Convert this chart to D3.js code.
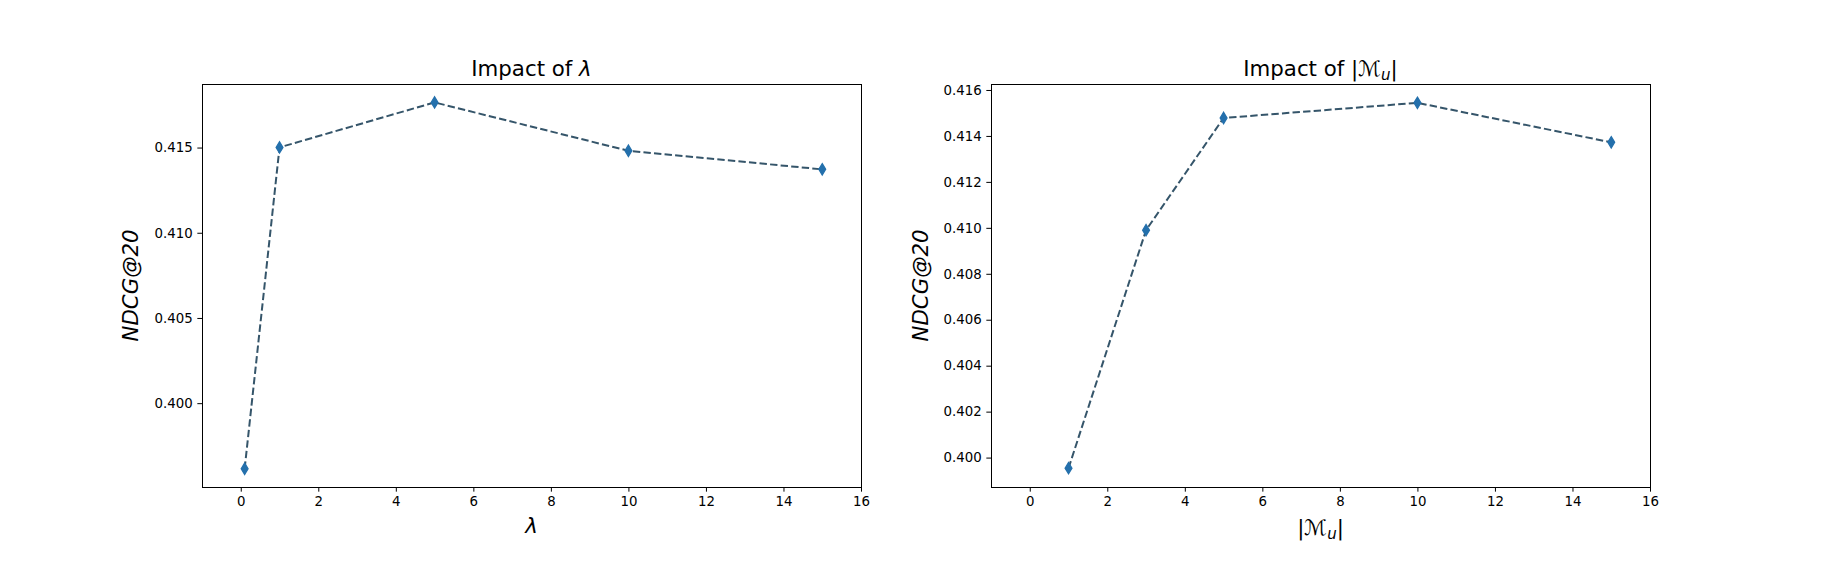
<!DOCTYPE html>
<html>
<head>
<meta charset="utf-8">
<script src="https://cdn.jsdelivr.net/npm/d3@7"></script>
<style>
  body { margin: 0; background: #fff; }
  svg text { font-family: "DejaVu Sans", sans-serif; fill: #000; }
  .tick text { font-size: 13.33px; }
  .tick line { stroke: #000; stroke-width: 1; }
</style>
</head>
<body>
<div id="chart"></div>
<script>
// left panel: lambda
var lambdaX = [0.1, 1, 5, 10, 15];
var lambdaY = [0.39615, 0.41501, 0.41765, 0.41481, 0.41372];
var lambdaTicksY = [0.400, 0.405, 0.410, 0.415];

// right panel: |M_u|
var memX = [1, 3, 5, 10, 15];
var memY = [0.39954, 0.40990, 0.41478, 0.41544, 0.41372];
var memTicksY = [0.400, 0.402, 0.404, 0.406, 0.408, 0.410, 0.412, 0.414, 0.416];

var xTicks = [0, 2, 4, 6, 8, 10, 12, 14, 16];

var width = 1832, height = 580;
var svg = d3.select('#chart').append('svg')
	.attr('width', width)
	.attr('height', height);

var lineColor = '#35556a';
var markColor = '#2470ac';

function panel(opts) {
	var x = d3.scaleLinear().domain([-1, 16]).range([opts.left, opts.left + 659]);
	var y = d3.scaleLinear().domain(opts.ylim).range([487, 84]);

	var g = svg.append('g');

	g.append('g')
		.attr('transform', 'translate(0,487)')
		.call(d3.axisBottom(x).tickValues(xTicks).tickSize(4.67).tickPadding(4.67).tickFormat(d3.format('d')))
		.call(function(a) { a.select('.domain').remove(); });

	g.append('g')
		.attr('transform', 'translate(' + opts.left + ',0)')
		.call(d3.axisLeft(y).tickValues(opts.ticks).tickSize(4.67).tickPadding(4.67).tickFormat(d3.format('.3f')))
		.call(function(a) { a.select('.domain').remove(); });

	g.selectAll('.tick text').attr('font-family', null);

	var pts = opts.xs.map(function(d, i) { return { x: d, y: opts.ys[i] }; });

	var line = d3.line()
		.x(function(d) { return x(d.x); })
		.y(function(d) { return y(d.y); });

	g.append('path')
		.datum(pts)
		.attr('d', line)
		.attr('fill', 'none')
		.attr('stroke', lineColor)
		.attr('stroke-width', 2)
		.attr('stroke-dasharray', '7.4,3.2');

	// thin diamond markers
	var diamond = 'M0,-5.66L3.4,0L0,5.66L-3.4,0Z';
	g.selectAll('.mk').data(pts).enter()
		.append('path')
		.attr('class', 'mk')
		.attr('d', diamond)
		.attr('transform', function(d) { return 'translate(' + x(d.x) + ',' + y(d.y) + ')'; })
		.attr('fill', markColor)
		.attr('stroke', markColor)
		.attr('stroke-width', 1.33);

	// frame
	g.append('rect')
		.attr('x', opts.left + 0.5)
		.attr('y', 84.5)
		.attr('width', 659)
		.attr('height', 403)
		.attr('fill', 'none')
		.attr('stroke', '#000')
		.attr('stroke-width', 1);

	var cx = opts.left + 329.5;

	var title = g.append('text')
		.attr('x', cx)
		.attr('y', 76)
		.attr('text-anchor', 'middle')
		.style('font-size', '21.3px');
	opts.title(title);

	g.append('text')
		.attr('transform', 'translate(' + opts.ylabX + ',285.5) rotate(-90)')
		.attr('text-anchor', 'middle')
		.attr('dy', '0.35em')
		.style('font-size', '21.3px')
		.style('font-style', 'italic')
		.text('NDCG@20');

	var xl = g.append('text')
		.attr('x', cx)
		.attr('y', opts.xlabY)
		.attr('text-anchor', 'middle')
		.style('font-size', '21.3px');
	opts.xlab(xl);
}

function memLabel(t) {
	t.append('tspan').text('|');
	t.append('tspan').text('\u2133');
	t.append('tspan').style('font-style', 'italic').style('font-size', '15px').attr('dy', 4).text('u');
	t.append('tspan').attr('dy', -4).text('|');
}

panel({
	left: 202,
	xs: lambdaX, ys: lambdaY,
	ylim: [0.39508, 0.41873],
	ticks: lambdaTicksY,
	ylabX: 131,
	xlabY: 533,
	title: function(t) {
		t.append('tspan').text('Impact of ');
		t.append('tspan').style('font-style', 'italic').text('\u03bb');
	},
	xlab: function(t) {
		t.append('tspan').style('font-style', 'italic').text('\u03bb');
	}
});

panel({
	left: 991,
	xs: memX, ys: memY,
	ylim: [0.39872, 0.41626],
	ticks: memTicksY,
	ylabX: 921,
	xlabY: 535,
	title: function(t) {
		t.append('tspan').text('Impact of ');
		memLabel(t);
	},
	xlab: memLabel
});
</script>
</body>
</html>
